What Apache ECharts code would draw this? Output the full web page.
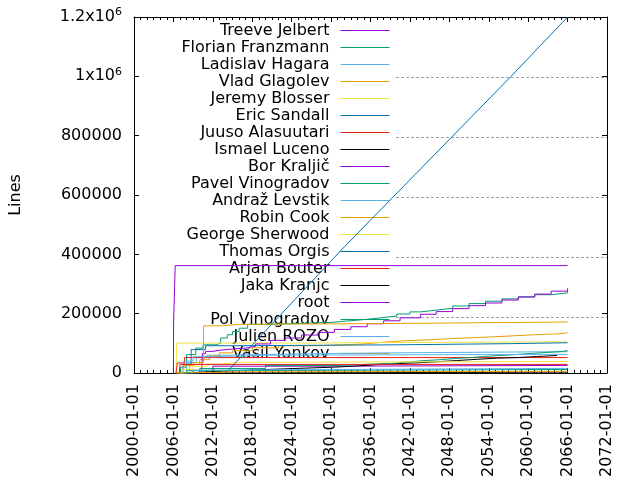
<!DOCTYPE html>
<html>
<head>
<meta charset="utf-8">
<script src="https://cdn.jsdelivr.net/npm/echarts@6/dist/echarts.min.js"></script>
<style>html,body{margin:0;padding:0;background:#fff}#chart{width:640px;height:480px}</style>
</head>
<body>
<div id="chart"></div>
<script>
// ---- data (x = decimal year, y = lines) ----
const authors = ['Treeve Jelbert','Florian Franzmann','Ladislav Hagara','Vlad Glagolev','Jeremy Blosser','Eric Sandall','Juuso Alasuutari','Ismael Luceno','Bor Kraljič','Pavel Vinogradov','Andraž Levstik','Robin Cook','George Sherwood','Thomas Orgis','Arjan Bouter','Jaka Kranjc','root','Pol Vinogradov','Julien ROZO','Vasil Yonkov'];
const xTickLabels = ['2000-01-01','2006-01-01','2012-01-01','2018-01-01','2024-01-01','2030-01-01','2036-01-01','2042-01-01','2048-01-01','2054-01-01','2060-01-01','2066-01-01','2072-01-01'];
const yTickLabels = ['0','200000','400000','600000','800000','1x10^6','1.2x10^6'];

const treeve = [[2006.3,0],[2012.0,23000],[2030.0,25600],[2066.0,25600]];
const florian = [[2006.6,0],[2007.1,20000],[2008.0,62000],[2009.4,84000],[2010.5,95000],[2012.5,101000],[2013.2,118000],[2014.2,129000],[2015.0,140000],[2016.0,151000],[2017.3,164000],[2020.0,167000],[2025.0,171000],[2030.2,175600],[2032.5,180000],[2035.0,186000],[2037.5,192000],[2040.0,199000],[2042.0,206000],[2043.6,212000],[2046.0,218000],[2048.5,226000],[2051.0,234000],[2053.5,242000],[2056.0,250000],[2058.5,257000],[2061.0,264000],[2063.5,270000],[2066.0,275600]];
const ladislav = [[2007.5,0],[2008.0,35000],[2009.5,52000],[2011.0,60000],[2014.0,66000],[2030.0,68000],[2039.8,72000],[2066.0,72000]];
const vlad = [[2006.8,0],[2007.5,12000],[2008.5,28000],[2010.0,45000],[2011.5,58000],[2013.0,68000],[2015.0,75000],[2018.0,85000],[2022.0,92000],[2028.0,98000],[2035.0,103000],[2037.5,104400],[2038.3,109000],[2041.5,112000],[2044.9,115600],[2048.0,118900],[2051.3,122000],[2054.6,125600],[2057.9,129000],[2061.1,132000],[2064.5,135600],[2066.0,135600]];
const jeremy = [[2006.4,0],[2006.5,101000],[2025.0,103000],[2039.8,105000],[2066.0,105000]];
const eric = [[2006.9,0],[2007.5,30000],[2008.7,79000],[2010.9,92000],[2015.5,95000],[2039.8,99000],[2057.3,102000],[2066.0,102000]];
const juuso = [[2006.4,0],[2006.6,34000],[2007.7,52000],[2066.0,52000]];
const ismael = [[2006.8,0],[2008.0,5000],[2012.0,10000],[2018.0,15000],[2024.1,20000],[2030.7,25600],[2035.5,30000],[2037.8,34000],[2042.8,38000],[2046.2,42000],[2049.1,46000],[2052.1,50000],[2055.2,52000],[2058.3,55600],[2061.3,59000],[2064.4,59000]];
const bor = [[2010.3,0],[2010.4,66000],[2010.9,73000],[2012.0,77000],[2013.2,80000],[2014.5,82000],[2015.5,84000],[2017.0,90000],[2018.5,98000],[2020.8,110000],[2023.0,118000],[2025.5,128000],[2028.0,137000],[2030.5,147000],[2033.0,156000],[2035.5,166000],[2038.0,176000],[2040.5,186000],[2043.6,198000],[2046.0,207000],[2048.5,217000],[2051.0,227000],[2053.5,236000],[2056.0,246000],[2058.5,256000],[2061.0,266000],[2063.5,276000],[2066.0,285600]];
const pavel = [[2008.0,0],[2010.0,15000],[2020.0,25000],[2030.2,29000],[2035.0,33000],[2039.8,38000],[2042.1,42000],[2044.3,45000],[2046.6,49000],[2048.9,52000],[2051.2,56000],[2053.5,59000],[2055.7,62000],[2058.0,65600],[2060.3,69000],[2062.6,72000],[2064.9,75600],[2066.0,75600]];
const andraz = [[2007.0,0],[2007.5,40000],[2009.0,55000],[2012.0,60000],[2020.0,63000],[2066.0,63000]];
const robin = [[2006.2,0],[2007.5,25000],[2009.0,35000],[2010.59,159000],[2013.2,164000],[2016.0,167000],[2039.8,172000],[2066.0,172000]];
const george = [[2006.6,0],[2007.5,12000],[2009.0,22000],[2011.0,30000],[2013.0,36000],[2016.0,39000],[2066.0,39000]];
const thomas = [[2014.0,0],[2031.7,418000],[2057.4,1000000],[2066.0,1200000]];
const arjan = [[2006.9,0],[2007.0,29000],[2066.0,29000]];
const jaka = [[2008.0,0],[2010.0,3000],[2066.0,3000]];
const root = [[2006.0,0],[2006.03,173000],[2006.27,362000],[2066.0,362000]];
const pol = [[2007.0,0],[2008.0,8000],[2012.0,12000],[2066.0,12000]];
const julien = [[2007.0,0],[2009.0,10000],[2014.0,15600],[2066.0,15600]];
const vasil = [[2006.7,0],[2008.0,4000],[2015.0,5600],[2066.0,5600]];

const seriesValues = [treeve, florian, ladislav, vlad, jeremy, eric, juuso, ismael, bor, pavel, andraz, robin, george, thomas, arjan, jaka, root, pol, julien, vasil];
const smoothStair = ['Thomas Orgis'];

// ---- styles ----
const palette = ['#9400d3','#009e73','#56b4e9','#e69f00','#f0e442','#0072b2','#e51e10','#000000'];
const FONT = 'DejaVu Sans';

const chart = echarts.init(document.getElementById('chart'), null, {renderer: 'canvas'});

const series = authors.map((name, i) => ({
  name: name,
  type: 'line',
  xAxisIndex: 0,
  yAxisIndex: 0,
  data: seriesValues[i],
  step: smoothStair.includes(name) ? false : 'end',
  symbol: 'none',
  showSymbol: false,
  z: 2,
  lineStyle: {width: 1, color: palette[i % palette.length]},
  itemStyle: {color: palette[i % palette.length]},
  emphasis: {disabled: true},
  animation: false
}));

function yFmt(v) {
  const idx = Math.round(v / 200000);
  const s = yTickLabels[idx] !== undefined ? yTickLabels[idx] : String(v);
  return s.replace(/\^(\d+)/, '{sup|$1}');
}
function xFmt(v) {
  const idx = Math.round((v - 2000) / 6);
  return xTickLabels[idx] !== undefined ? xTickLabels[idx] : '';
}

const option = {
  animation: false,
  color: palette,
  textStyle: {fontFamily: FONT},
  grid: [
    {left: 133, right: 33, top: 17, bottom: 103, containLabel: false},
    {left: 396, right: 33, top: 17, bottom: 103, containLabel: false}
  ],
  legend: {
    data: authors,
    orient: 'vertical',
    align: 'right',
    right: 250,
    top: 22,
    padding: 0,
    itemWidth: 49,
    itemHeight: 15,
    itemGap: 0,
    z: 1,
    selectedMode: false,
    inactiveColor: '#000',
    itemStyle: {opacity: 0},
    lineStyle: {width: 1},
    textStyle: {fontFamily: FONT, fontSize: 16, lineHeight: 17, color: '#000', padding: [0, 6, 0, 0]}
  },
  xAxis: [
    {
      type: 'value', gridIndex: 0, position: 'bottom',
      min: 2000, max: 2072, interval: 6,
      axisLine: {show: true, onZero: false, lineStyle: {color: '#000', width: 1}},
      axisTick: {show: true, inside: true, length: 5, lineStyle: {color: '#000'}},
      minorTick: {show: true, splitNumber: 6, length: 3, lineStyle: {color: '#000'}},
      splitLine: {show: false},
      axisLabel: {show: true, rotate: 90, margin: 11, formatter: xFmt, color: '#000', fontFamily: FONT, fontSize: 16, showMinLabel: true, showMaxLabel: true}
    },
    {
      type: 'value', gridIndex: 0, position: 'top',
      min: 2000, max: 2072, interval: 6,
      axisLine: {show: true, onZero: false, lineStyle: {color: '#000', width: 1}},
      axisTick: {show: true, inside: true, length: 5, lineStyle: {color: '#000'}},
      minorTick: {show: true, splitNumber: 6, length: 3, lineStyle: {color: '#000'}},
      splitLine: {show: false},
      axisLabel: {show: false}
    },
    {
      type: 'value', gridIndex: 1, min: 0, max: 1, show: false
    }
  ],
  yAxis: [
    {
      type: 'value', gridIndex: 0, position: 'left',
      min: 0, max: 1200000, interval: 200000,
      name: 'Lines', nameLocation: 'middle', nameGap: 110, nameRotate: 90,
      nameTextStyle: {fontFamily: FONT, fontSize: 16, color: '#000'},
      axisLine: {show: true, onZero: false, lineStyle: {color: '#000', width: 1}},
      axisTick: {show: true, inside: true, length: 5, lineStyle: {color: '#000'}},
      splitLine: {show: false},
      axisLabel: {
        show: true, margin: 12, formatter: yFmt, color: '#000', fontFamily: FONT, fontSize: 16,
        rich: {sup: {fontSize: 11, fontFamily: FONT, color: '#000', padding: [0, 0, 9, 0]}}
      }
    },
    {
      type: 'value', gridIndex: 0, position: 'right',
      min: 0, max: 1200000, interval: 200000,
      axisLine: {show: true, onZero: false, lineStyle: {color: '#000', width: 1}},
      axisTick: {show: true, inside: true, length: 5, lineStyle: {color: '#000'}},
      splitLine: {show: false},
      axisLabel: {show: false}
    },
    {
      type: 'value', gridIndex: 1,
      min: 0, max: 1200000, interval: 200000,
      axisLine: {show: false}, axisTick: {show: false}, axisLabel: {show: false},
      splitLine: {show: true, showMinLine: false, showMaxLine: false, lineStyle: {color: '#a0a0a0', width: 1, type: [3, 2]}}
    }
  ],
  series: series
};

chart.setOption(option);
</script>
</body>
</html>
